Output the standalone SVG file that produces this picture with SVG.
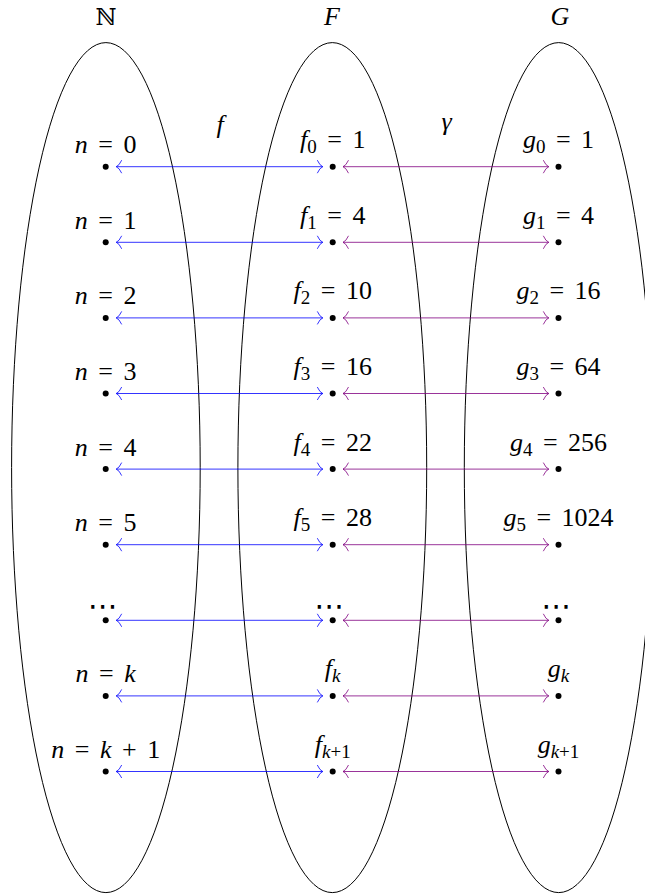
<svg xmlns="http://www.w3.org/2000/svg" width="645" height="894" viewBox="0 0 645 894">
<defs>
<marker id="hb" markerUnits="userSpaceOnUse" markerWidth="14" markerHeight="18" viewBox="-7 -9 14 18" refX="0" refY="0" orient="auto-start-reverse"><path d="M-5.5,-6.5 Q-3,-1 0,0 Q-3,1 -5.5,6.5" fill="none" stroke="#0000ff" stroke-width="0.8"/></marker>
<marker id="hv" markerUnits="userSpaceOnUse" markerWidth="14" markerHeight="18" viewBox="-7 -9 14 18" refX="0" refY="0" orient="auto-start-reverse"><path d="M-5.5,-6.5 Q-3,-1 0,0 Q-3,1 -5.5,6.5" fill="none" stroke="#800080" stroke-width="0.8"/></marker>
</defs>
<style>
.set{fill:none;stroke:#000;stroke-width:1}
.dot{fill:#000}
.lab{font-family:'Liberation Serif','Times New Roman','DejaVu Serif',serif;font-size:26px;text-anchor:middle;fill:#000;word-spacing:4px}
.it{font-style:italic}
.sub{font-size:19px}
.dots{font-family:'DejaVu Sans',sans-serif;font-size:30px;text-anchor:middle;fill:#000}
.blue{stroke:#0000ff;stroke-width:0.8;fill:none;marker-start:url(#hb);marker-end:url(#hb)}
.vio{stroke:#800080;stroke-width:0.8;fill:none;marker-start:url(#hv);marker-end:url(#hv)}
</style>
<rect width="645" height="894" fill="#fff"/>

<g id="set-N">
<ellipse class="set" cx="105.9" cy="467.6" rx="94.3" ry="425"/>
<text x="106" y="25" font-family="'DejaVu Serif','DejaVu Sans',serif" font-size="23" text-anchor="middle">ℕ</text>
</g>
<g id="set-F">
<ellipse class="set" cx="332.3" cy="467.6" rx="94.4" ry="425"/>
<text class="lab it" x="332" y="25">F</text>
</g>
<g id="set-G">
<ellipse class="set" cx="558.7" cy="467.6" rx="94.4" ry="425"/>
<text class="lab it" x="560" y="25">G</text>
</g>

<g id="map-labels">
<text class="lab it" x="220" y="133">f</text>
<text class="lab it" x="446.5" y="130">γ</text>
</g>

<g id="connectors">
<line class="blue" x1="116.2" y1="166.7" x2="322.8" y2="166.7"/>
<line class="vio" x1="343" y1="166.7" x2="548.8" y2="166.7"/>
<line class="blue" x1="116.2" y1="242.3" x2="322.8" y2="242.3"/>
<line class="vio" x1="343" y1="242.3" x2="548.8" y2="242.3"/>
<line class="blue" x1="116.2" y1="317.9" x2="322.8" y2="317.9"/>
<line class="vio" x1="343" y1="317.9" x2="548.8" y2="317.9"/>
<line class="blue" x1="116.2" y1="393.5" x2="322.8" y2="393.5"/>
<line class="vio" x1="343" y1="393.5" x2="548.8" y2="393.5"/>
<line class="blue" x1="116.2" y1="469.1" x2="322.8" y2="469.1"/>
<line class="vio" x1="343" y1="469.1" x2="548.8" y2="469.1"/>
<line class="blue" x1="116.2" y1="544.7" x2="322.8" y2="544.7"/>
<line class="vio" x1="343" y1="544.7" x2="548.8" y2="544.7"/>
<line class="blue" x1="116.2" y1="620.3" x2="322.8" y2="620.3"/>
<line class="vio" x1="343" y1="620.3" x2="548.8" y2="620.3"/>
<line class="blue" x1="116.2" y1="695.9" x2="322.8" y2="695.9"/>
<line class="vio" x1="343" y1="695.9" x2="548.8" y2="695.9"/>
<line class="blue" x1="116.2" y1="771.5" x2="322.8" y2="771.5"/>
<line class="vio" x1="343" y1="771.5" x2="548.8" y2="771.5"/>
</g>

<!-- row 0 -->
<g id="n0"><circle class="dot" cx="105.7" cy="166.7" r="3"/><text class="lab" x="105.7" y="153.2"><tspan class="it">n</tspan> = 0</text></g>
<g id="f0"><circle class="dot" cx="332.7" cy="166.7" r="3"/><text class="lab" x="332.7" y="148.2"><tspan class="it">f</tspan><tspan class="sub" dy="5">0</tspan><tspan dy="-5"> = 1</tspan></text></g>
<g id="g0"><circle class="dot" cx="558.5" cy="166.7" r="3"/><text class="lab" x="558.5" y="148.2"><tspan class="it">g</tspan><tspan class="sub" dy="5">0</tspan><tspan dy="-5"> = 1</tspan></text></g>
<!-- row 1 -->
<g id="n1"><circle class="dot" cx="105.7" cy="242.3" r="3"/><text class="lab" x="105.7" y="228.8"><tspan class="it">n</tspan> = 1</text></g>
<g id="f1"><circle class="dot" cx="332.7" cy="242.3" r="3"/><text class="lab" x="332.7" y="223.8"><tspan class="it">f</tspan><tspan class="sub" dy="5">1</tspan><tspan dy="-5"> = 4</tspan></text></g>
<g id="g1"><circle class="dot" cx="558.5" cy="242.3" r="3"/><text class="lab" x="558.5" y="223.8"><tspan class="it">g</tspan><tspan class="sub" dy="5">1</tspan><tspan dy="-5"> = 4</tspan></text></g>
<!-- row 2 -->
<g id="n2"><circle class="dot" cx="105.7" cy="317.9" r="3"/><text class="lab" x="105.7" y="304.4"><tspan class="it">n</tspan> = 2</text></g>
<g id="f2"><circle class="dot" cx="332.7" cy="317.9" r="3"/><text class="lab" x="332.7" y="299.4"><tspan class="it">f</tspan><tspan class="sub" dy="5">2</tspan><tspan dy="-5"> = 10</tspan></text></g>
<g id="g2"><circle class="dot" cx="558.5" cy="317.9" r="3"/><text class="lab" x="558.5" y="299.4"><tspan class="it">g</tspan><tspan class="sub" dy="5">2</tspan><tspan dy="-5"> = 16</tspan></text></g>
<!-- row 3 -->
<g id="n3"><circle class="dot" cx="105.7" cy="393.5" r="3"/><text class="lab" x="105.7" y="380"><tspan class="it">n</tspan> = 3</text></g>
<g id="f3"><circle class="dot" cx="332.7" cy="393.5" r="3"/><text class="lab" x="332.7" y="375"><tspan class="it">f</tspan><tspan class="sub" dy="5">3</tspan><tspan dy="-5"> = 16</tspan></text></g>
<g id="g3"><circle class="dot" cx="558.5" cy="393.5" r="3"/><text class="lab" x="558.5" y="375"><tspan class="it">g</tspan><tspan class="sub" dy="5">3</tspan><tspan dy="-5"> = 64</tspan></text></g>
<!-- row 4 -->
<g id="n4"><circle class="dot" cx="105.7" cy="469.1" r="3"/><text class="lab" x="105.7" y="455.6"><tspan class="it">n</tspan> = 4</text></g>
<g id="f4"><circle class="dot" cx="332.7" cy="469.1" r="3"/><text class="lab" x="332.7" y="450.6"><tspan class="it">f</tspan><tspan class="sub" dy="5">4</tspan><tspan dy="-5"> = 22</tspan></text></g>
<g id="g4"><circle class="dot" cx="558.5" cy="469.1" r="3"/><text class="lab" x="558.5" y="450.6"><tspan class="it">g</tspan><tspan class="sub" dy="5">4</tspan><tspan dy="-5"> = 256</tspan></text></g>
<!-- row 5 -->
<g id="n5"><circle class="dot" cx="105.7" cy="544.7" r="3"/><text class="lab" x="105.7" y="531.2"><tspan class="it">n</tspan> = 5</text></g>
<g id="f5"><circle class="dot" cx="332.7" cy="544.7" r="3"/><text class="lab" x="332.7" y="526.2"><tspan class="it">f</tspan><tspan class="sub" dy="5">5</tspan><tspan dy="-5"> = 28</tspan></text></g>
<g id="g5"><circle class="dot" cx="558.5" cy="544.7" r="3"/><text class="lab" x="558.5" y="526.2"><tspan class="it">g</tspan><tspan class="sub" dy="5">5</tspan><tspan dy="-5"> = 1024</tspan></text></g>
<!-- row dots -->
<g id="ndots"><circle class="dot" cx="105.7" cy="620.3" r="3"/><text class="dots" x="103" y="616">⋯</text></g>
<g id="fdots"><circle class="dot" cx="332.7" cy="620.3" r="3"/><text class="dots" x="329.5" y="616">⋯</text></g>
<g id="gdots"><circle class="dot" cx="558.5" cy="620.3" r="3"/><text class="dots" x="556.5" y="616">⋯</text></g>
<!-- row k -->
<g id="nk"><circle class="dot" cx="105.7" cy="695.9" r="3"/><text class="lab" x="105.7" y="682.4"><tspan class="it">n</tspan> = <tspan class="it">k</tspan></text></g>
<g id="fk"><circle class="dot" cx="332.7" cy="695.9" r="3"/><text class="lab" x="332.7" y="677.4"><tspan class="it">f</tspan><tspan class="sub it" dy="5">k</tspan></text></g>
<g id="gk"><circle class="dot" cx="558.5" cy="695.9" r="3"/><text class="lab" x="558.5" y="677.4"><tspan class="it">g</tspan><tspan class="sub it" dy="5">k</tspan></text></g>
<!-- row k+1 -->
<g id="nk1"><circle class="dot" cx="105.7" cy="771.5" r="3"/><text class="lab" x="105.7" y="758"><tspan class="it">n</tspan> = <tspan class="it">k</tspan> + 1</text></g>
<g id="fk1"><circle class="dot" cx="332.7" cy="771.5" r="3"/><text class="lab" x="332.7" y="753"><tspan class="it">f</tspan><tspan class="sub" dy="5"><tspan class="it">k</tspan>+1</tspan></text></g>
<g id="gk1"><circle class="dot" cx="558.5" cy="771.5" r="3"/><text class="lab" x="558.5" y="753"><tspan class="it">g</tspan><tspan class="sub" dy="5"><tspan class="it">k</tspan>+1</tspan></text></g>
</svg>
